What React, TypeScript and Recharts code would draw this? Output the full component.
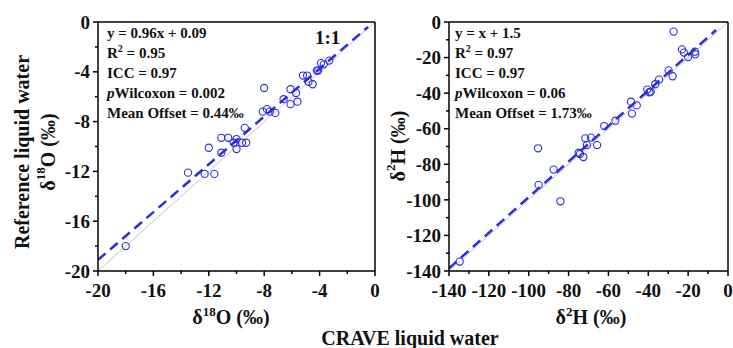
import React from 'react';
import { ScatterChart, Scatter, XAxis, YAxis, ReferenceLine } from 'recharts';

// δ18O: CRAVE (x) vs reference (y)
const o18Crave = [-18.0, -13.5, -12.3, -11.6, -12.0, -11.1, -11.1, -10.6, -10.2, -10.0, -10.0, -9.6, -9.3, -9.4, -8.0, -8.1, -7.8, -7.6, -7.2, -6.6, -6.1, -6.1, -5.7, -5.6, -5.2, -4.9, -4.8, -4.5, -4.2, -4.1, -3.9, -3.7, -3.3];
const o18Ref = [-18.0, -12.1, -12.2, -12.2, -10.1, -10.5, -9.3, -9.3, -9.7, -9.4, -10.2, -9.7, -9.7, -8.5, -5.3, -7.2, -7.0, -7.2, -7.3, -6.2, -5.4, -6.6, -5.7, -6.4, -4.3, -4.3, -4.8, -5.0, -3.9, -3.9, -3.3, -3.4, -3.1];

// δ2H: CRAVE (x) vs reference (y)
const h2Crave = [-134.6, -95.3, -95.0, -87.5, -84.1, -74.9, -74.3, -72.6, -71.6, -70.8, -68.8, -65.7, -62.1, -56.5, -48.7, -48.2, -45.8, -40.5, -39.5, -38.8, -36.5, -34.6, -29.8, -27.8, -27.3, -23.1, -22.1, -20.0, -16.4, -16.6];
const h2Ref = [-134.7, -71.0, -91.6, -83.0, -100.8, -73.5, -74.2, -75.9, -65.4, -69.2, -65.0, -69.2, -58.5, -55.5, -44.8, -51.5, -46.9, -38.0, -39.5, -39.2, -35.0, -32.4, -27.2, -30.5, -5.4, -15.4, -17.2, -19.7, -18.2, -16.7];

const o18Ticks = [-20, -18, -16, -14, -12, -10, -8, -6, -4, -2, 0];
const o18Major = [-20, -16, -12, -8, -4, 0];
const h2Ticks = [-140, -130, -120, -110, -100, -90, -80, -70, -60, -50, -40, -30, -20, -10, 0];
const h2Major = [-140, -120, -100, -80, -60, -40, -20, 0];

// fitted lines (slope, intercept, drawn x range)
const o18Fit = { slope: 0.96, intercept: 0.09, from: -20, to: -0.5 };
const h2Fit = { slope: 1, intercept: 1.5, from: -140, to: -6 };

const o18Stats = { eq: 'y = 0.96x + 0.09', r2: '0.95', icc: '0.97', p: '0.002', offset: '0.44‰' };
const h2Stats = { eq: 'y = x + 1.5', r2: '0.97', icc: '0.97', p: '0.06', offset: '1.73‰' };

const FONT = '"Liberation Serif", "Times New Roman", serif';
const BLUE = '#2b2be6';

const makeTick = (axis: 'x' | 'y', majors: number[]) => (props: any) => {
  const { x, y, payload } = props;
  const major = majors.includes(payload.value);
  const len = major ? 5 : 3;
  if (axis === 'y') {
    return (
      <g>
        <line x1={x - len} x2={x} y1={y} y2={y} stroke="#000" strokeWidth={1.5} />
        {major && (
          <text x={x - 8} y={y} dy="0.35em" textAnchor="end" fontFamily={FONT} fontWeight="bold" fontSize={19} fill="#111">
            {payload.value}
          </text>
        )}
      </g>
    );
  }
  return (
    <g>
      <line x1={x} x2={x} y1={y} y2={y + len} stroke="#000" strokeWidth={1.5} />
      {major && (
        <text x={x} y={y + 12} dy="0.72em" textAnchor="middle" fontFamily={FONT} fontWeight="bold" fontSize={19} fill="#111">
          {payload.value}
        </text>
      )}
    </g>
  );
};

const ring = (p: any) => <circle cx={p.cx} cy={p.cy} r={3.6} fill="none" stroke={BLUE} strokeWidth={1.1} />;

const Panel = ({ xs, ys, ticks, majors, fit, min, width, marginLeft }: any) => {
  const data = xs.map((x: number, i: number) => ({ x, y: ys[i] }));
  return (
    <ScatterChart width={width} height={348} margin={{ top: 22, right: 5, left: marginLeft, bottom: 47 }}>
      <XAxis type="number" dataKey="x" domain={[min, 0]} ticks={ticks} interval={0} allowDataOverflow
        height={30} tickSize={0} tickMargin={0} tick={makeTick('x', majors)} tickLine={false}
        axisLine={{ stroke: '#000', strokeWidth: 1.5 }} />
      <YAxis type="number" dataKey="y" domain={[min, 0]} ticks={ticks} interval={0} allowDataOverflow
        width={40} tickSize={0} tickMargin={0} tick={makeTick('y', majors)} tickLine={false}
        axisLine={{ stroke: '#000', strokeWidth: 1.5 }} />
      <ReferenceLine segment={[{ x: min, y: min }, { x: 0, y: 0 }]} stroke="#c4c4c4" strokeWidth={1} />
      <ReferenceLine
        segment={[{ x: fit.from, y: fit.slope * fit.from + fit.intercept }, { x: fit.to, y: fit.slope * fit.to + fit.intercept }]}
        stroke={BLUE} strokeWidth={2.5} strokeDasharray="10 6" ifOverflow="hidden" />
      <ReferenceLine y={0} stroke="#000" strokeWidth={1.5} />
      <ReferenceLine x={0} stroke="#000" strokeWidth={1.5} />
      <Scatter data={data} shape={ring} isAnimationActive={false} />
    </ScatterChart>
  );
};

const StatLines = ({ x, stats }: any) => {
  const y0 = 38;
  const step = 20;
  const common = { x, fontFamily: FONT, fontWeight: 'bold', fontSize: 15, fill: '#111' } as any;
  return (
    <g>
      <text {...common} y={y0}>{stats.eq}</text>
      <text {...common} y={y0 + step}>R<tspan fontSize={10} dy={-6}>2</tspan><tspan dy={6}> = {stats.r2}</tspan></text>
      <text {...common} y={y0 + step * 2}>ICC = {stats.icc}</text>
      <text {...common} y={y0 + step * 3}><tspan fontStyle="italic">p</tspan>Wilcoxon = {stats.p}</text>
      <text {...common} y={y0 + step * 4}>Mean Offset = {stats.offset}</text>
    </g>
  );
};

const Delta = ({ iso, el }: { iso: string; el: string }) => (
  <>
    δ<tspan fontSize={13} dy={-8}>{iso}</tspan><tspan dy={8}>{el} (‰)</tspan>
  </>
);

export default function App() {
  const title = { fontFamily: FONT, fontWeight: 'bold', fill: '#111' } as any;
  return (
    <div style={{ position: 'fixed', left: 0, top: 0, width: 733, height: 348, background: '#fff' }}>
      <div style={{ position: 'absolute', left: 0, top: 0 }}>
        <Panel xs={o18Crave} ys={o18Ref} ticks={o18Ticks} majors={o18Major} fit={o18Fit} min={-20} width={380} marginLeft={58} />
      </div>
      <div style={{ position: 'absolute', left: 380, top: 0 }}>
        <Panel xs={h2Crave} ys={h2Ref} ticks={h2Ticks} majors={h2Major} fit={h2Fit} min={-140} width={353} marginLeft={29} />
      </div>
      <svg width={733} height={348} style={{ position: 'absolute', left: 0, top: 0, pointerEvents: 'none' }}>
        <StatLines x={107} stats={o18Stats} />
        <StatLines x={455} stats={h2Stats} />
        <text x={315} y={44} {...title} fontSize={19}>1:1</text>
        <text x={22} y={152} {...title} fontSize={20} textAnchor="middle" dominantBaseline="central" transform="rotate(-90 22 152)">Reference liquid water</text>
        <text x={48} y={152} {...title} fontSize={20} textAnchor="middle" dominantBaseline="central" transform="rotate(-90 48 152)"><Delta iso="18" el="O" /></text>
        <text x={398} y={146} {...title} fontSize={20} textAnchor="middle" dominantBaseline="central" transform="rotate(-90 398 146)"><Delta iso="2" el="H" /></text>
        <text x={231} y={324} {...title} fontSize={20} textAnchor="middle"><Delta iso="18" el="O" /></text>
        <text x={591} y={324} {...title} fontSize={20} textAnchor="middle"><Delta iso="2" el="H" /></text>
        <text x={410} y={345} {...title} fontSize={20} textAnchor="middle">CRAVE liquid water</text>
      </svg>
    </div>
  );
}
